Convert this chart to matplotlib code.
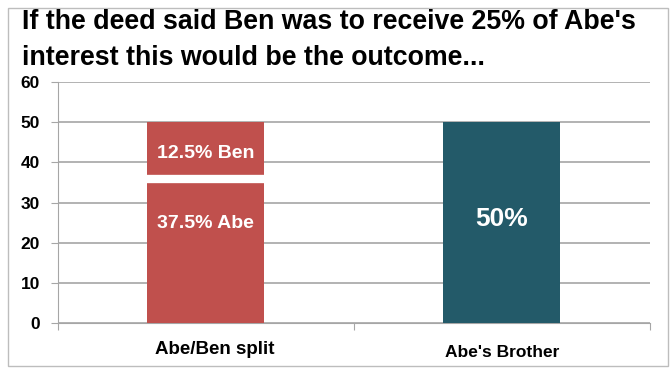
import matplotlib.pyplot as plt
from matplotlib.patches import Rectangle

# data
categories = ["Abe/Ben split", "Abe's Brother"]
abe_share = [37.5, 0]
ben_share = [12.5, 0]
brother_share = [0, 50]
yticks = [0, 10, 20, 30, 40, 50, 60]

red = '#C0504D'
teal = '#235A69'

plt.rcParams['font.family'] = ['Liberation Sans', 'DejaVu Sans']

fig = plt.figure(figsize=(6.71, 3.69), dpi=100)
ax = fig.add_axes([0.0864, 0.1247, 0.882, 0.653])

# outer frame
fig.patches.append(Rectangle((0.012, 0.008), 0.983, 0.97, transform=fig.transFigure,
                             fill=False, edgecolor='#bdbdbd', linewidth=1))

x = [0, 1]
w = 0.395
ax.bar(x[0], abe_share[0], width=w, color=red, zorder=3)
ax.bar(x[0], ben_share[0], bottom=abe_share[0], width=w, color=red, zorder=3)
# white gap between the two stacked pieces
ax.hlines(abe_share[0] - 1.6, x[0] - w / 2, x[0] + w / 2, color='white', linewidth=6, zorder=4)
ax.bar(x[1], brother_share[1], width=w, color=teal, zorder=3)

ax.text(x[0], abe_share[0] + ben_share[0] / 2 - 1.5, '12.5% Ben', color='white', fontsize=14,
        fontweight='bold', ha='center', va='center', zorder=5)
ax.text(x[0], abe_share[0] * 0.66, '37.5% Abe', color='white', fontsize=14,
        fontweight='bold', ha='center', va='center', zorder=5)
ax.text(x[1], brother_share[1] / 2 + 0.8, '50%', color='white', fontsize=19,
        fontweight='bold', ha='center', va='center', zorder=5)

ax.set_xlim(-0.5, 1.5)
ax.set_ylim(0, 60)
ax.set_yticks(yticks)
ax.set_yticklabels([str(v) for v in yticks], fontweight='bold', fontsize=12.5)
ax.yaxis.grid(True, color='#a6a6a6', linewidth=1.2, zorder=0)
ax.set_axisbelow(True)

ax.set_xticks([-0.5, 0.5, 1.5])
ax.set_xticklabels([])
ax.tick_params(axis='x', length=5, color='#a6a6a6', direction='out')
ax.tick_params(axis='y', length=5, color='#a6a6a6', pad=8)
for s in ['top', 'right']:
    ax.spines[s].set_visible(False)
ax.spines['left'].set_color('#a6a6a6')
ax.spines['bottom'].set_color('#a6a6a6')

ax.text(x[0] + 0.03, -6.6, categories[0], fontsize=13.5, fontweight='bold', ha='center', va='center')
ax.text(x[1], -7.3, categories[1], fontsize=12.5, fontweight='bold', ha='center', va='center')

fig.text(0.033, 0.94, "If the deed said Ben was to receive 25% of Abe's", fontsize=19.3,
         fontweight='bold', ha='left', va='center')
fig.text(0.033, 0.842, "interest this would be the outcome...", fontsize=19.3,
         fontweight='bold', ha='left', va='center')

fig.savefig('out.png', dpi=100)
